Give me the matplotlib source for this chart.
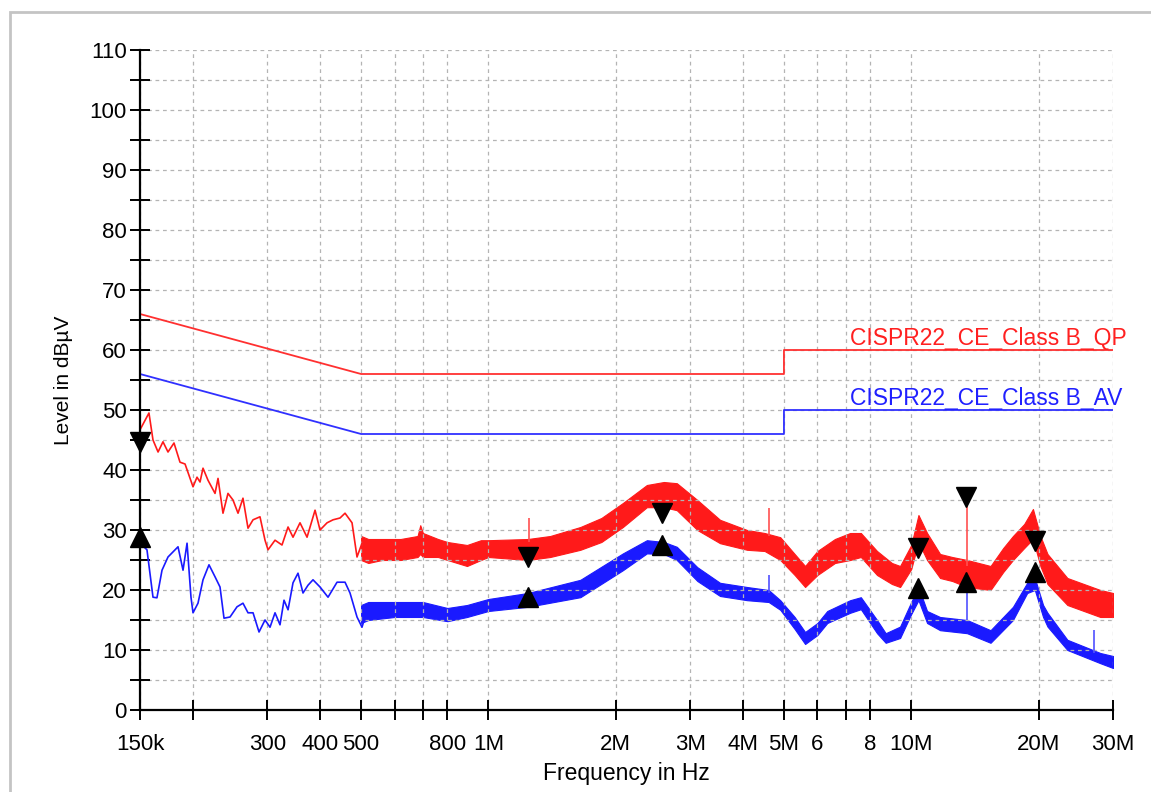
import numpy as np
import matplotlib
matplotlib.use('Agg')
import matplotlib.pyplot as plt
from matplotlib.patches import Rectangle

plt.rcParams['font.family'] = ['Liberation Sans', 'DejaVu Sans']

# 1. Limit lines (frequency in MHz, level in dBuV)
qp_limit_f = [0.15, 0.5, 5.0, 5.0, 30.0]
qp_limit_v = [66, 56, 56, 60, 60]
av_limit_f = [0.15, 0.5, 5.0, 5.0, 30.0]
av_limit_v = [56, 46, 46, 50, 50]

# 2. Measured traces below 500 kHz (single wiggly line), kHz / dBuV
red_low_f = [150, 157.5, 161, 165.5, 170, 174.7, 180.5, 186.5, 191.7, 200.2, 204.6, 208,
             211.4, 217.2, 225.7, 229.4, 235.7, 242.2, 248.9, 255.8, 262.8, 270.1, 277.6,
             288.3, 296.3, 301.2, 312.9, 325, 335.9, 345.1, 358.5, 372.5, 389.1, 399.8,
             415.4, 429.2, 445.8, 458.1, 475.9, 489, 502.5]
red_low_v = [46.7, 49.5, 45, 43, 44.7, 43, 44.5, 41.3, 41, 37.2, 38.8, 38,
             40.3, 38.3, 36.1, 38.6, 32.8, 36.1, 35, 32.8, 35.3, 30.3, 31.7,
             32.2, 28.3, 26.7, 28.3, 27.5, 30.5, 28.8, 31.2, 28.8, 33.3, 30,
             31.2, 31.7, 32, 32.8, 31.2, 25.5, 27.8]
blue_low_f = [150, 155.8, 161, 164.5, 169.1, 174.7, 184.5, 189.6, 193.8, 198, 200.2, 205.7,
              211.4, 218.4, 225.7, 231.9, 237, 244.9, 254.4, 262.8, 270.1, 277.6, 286.8,
              296.3, 304.5, 312.9, 321.5, 328.6, 335.9, 345.1, 354.6, 364.4, 374.5, 384.8,
              399.8, 417.6, 438.6, 458.1, 470.7, 489, 502.5, 516.4]
blue_low_v = [27.8, 26.7, 18.8, 18.7, 23.3, 25.5, 27.2, 23.3, 27.8, 18.8, 16.2, 17.8,
              21.7, 24.2, 22.2, 20.5, 15.3, 15.5, 17.2, 17.8, 16.2, 16.2, 13,
              15, 13.8, 16.2, 14.2, 18.3, 16.7, 21.2, 22.8, 19.5, 20.8, 21.7,
              20.5, 18.8, 21.3, 21.3, 19.5, 15.5, 13.8, 16.7]

# 3. Measured traces above 500 kHz (noise band: low / high edge), MHz / dBuV
red_band_f = [0.50, 0.52, 0.56, 0.62, 0.68, 0.69, 0.70, 0.76, 0.80, 0.89, 0.96, 1.0, 1.24, 1.4,
              1.65, 1.85, 2.08, 2.37, 2.6, 2.79, 3.12, 3.53, 4.09, 4.5, 4.9, 5.3, 5.61, 6.0,
              6.6, 7.17, 7.6, 8.3, 9.0, 9.41, 10.0, 10.4, 10.9, 11.7, 12.5, 13.55, 15.4,
              16.5, 17.4, 18.5, 19.4, 20.2, 21.0, 23.4, 28.0, 30.0]
red_band_lo = [25.0, 24.5, 25.0, 25.0, 25.5, 26.0, 25.5, 25.5, 25.0, 24.0, 25.0, 25.5, 25.0, 25.5,
               26.7, 28.0, 30.5, 33.8, 33.8, 33.3, 30.0, 27.8, 26.7, 26.5, 25.0, 22.5, 20.5, 22.5,
               24.5, 25.0, 25.5, 22.5, 21.0, 20.5, 23.5, 28.0, 25.0, 22.0, 21.5, 20.5, 20.0,
               23.0, 25.0, 27.0, 28.5, 24.0, 21.0, 17.5, 15.5, 15.5]
red_band_hi = [29.0, 28.5, 28.5, 28.5, 29.0, 30.8, 29.5, 28.5, 28.0, 27.5, 28.3, 28.3, 28.5, 29.0,
               30.5, 32.0, 34.5, 37.5, 38.0, 37.8, 35.0, 31.7, 30.0, 29.5, 28.8, 26.0, 24.0, 26.5,
               28.5, 29.5, 29.5, 26.5, 24.5, 24.0, 27.5, 32.5, 29.5, 26.0, 25.5, 25.0, 24.0,
               27.0, 29.0, 31.0, 33.5, 29.0, 26.0, 22.0, 20.0, 19.5]
blue_band_f = [0.50, 0.52, 0.60, 0.70, 0.80, 0.89, 1.0, 1.24, 1.65, 2.08, 2.37, 2.6, 2.79, 3.12,
               3.53, 4.09, 4.6, 4.9, 5.3, 5.61, 6.0, 6.33, 7.17, 7.6, 8.3, 8.7, 9.41, 10.0, 10.4,
               10.9, 11.7, 13.55, 15.4, 17.4, 18.8, 19.6, 20.5, 21.0, 23.4, 28.0, 30.0]
blue_band_lo = [14.5, 15.0, 15.5, 15.5, 14.8, 15.5, 16.5, 17.2, 18.8, 23.3, 26.1, 26.0, 25.0, 21.5,
                19.0, 18.3, 18.0, 16.7, 13.5, 11.0, 12.5, 14.5, 16.2, 16.8, 12.8, 11.2, 12.0, 16.0,
                18.3, 14.5, 13.3, 12.8, 11.2, 15.0, 19.5, 20.0, 15.5, 13.9, 10.0, 7.8, 7.0]
blue_band_hi = [17.5, 18.0, 18.0, 18.0, 17.0, 17.5, 18.5, 19.5, 21.7, 26.1, 28.3, 28.0, 27.2, 23.8,
                21.2, 20.5, 20.0, 18.3, 15.5, 13.0, 14.5, 16.5, 18.3, 18.8, 15.0, 12.8, 13.9, 18.0,
                20.5, 16.5, 15.5, 15.0, 13.3, 17.2, 21.2, 22.0, 17.5, 16.2, 11.7, 9.5, 9.0]

# 4. Single spikes (MHz, from, to)
red_spike_f = [1.25, 4.6, 13.55]
red_spike_lo = [28.0, 29.0, 24.0]
red_spike_hi = [32.0, 33.7, 35.5]
blue_spike_f = [4.6, 13.55, 27.0]
blue_spike_lo = [19.5, 15.0, 9.5]
blue_spike_hi = [22.5, 21.3, 13.3]

# 5. Peak markers
qp_mark_f = [0.15, 1.24, 2.57, 10.4, 13.5, 19.6]
qp_mark_v = [44.7, 25.5, 32.8, 27.0, 35.5, 28.2]
av_mark_f = [0.15, 1.24, 2.57, 10.4, 13.5, 19.6]
av_mark_v = [28.8, 18.8, 27.5, 20.3, 21.3, 23.0]

# 6. Axis ticks
xtick_f = [0.15, 0.2, 0.3, 0.4, 0.5, 0.6, 0.7, 0.8, 1, 2, 3, 4, 5, 6, 7, 8, 10, 20, 30]
xtick_lbl = ['150k', '', '300', '400', '500', '', '', '800', '1M', '2M', '3M', '4M', '5M',
             '6', '', '8', '10M', '20M', '30M']

RED = '#ff1a1a'
BLUE = '#1a1aff'
MHz = 1e6
kHz = 1e3

fig = plt.figure(figsize=(11.51, 7.92), dpi=100)
ax = fig.add_axes([140 / 1151, 1 - 710 / 792, 973 / 1151, 660 / 792])

# light grey frame around the picture
fig.patches.append(Rectangle((10 / 1151, -0.05), 1.1, 1 - 12 / 792 + 0.05,
                             transform=fig.transFigure, fill=False,
                             edgecolor='#c4c4c4', lw=2))

# limits
ax.plot(np.array(qp_limit_f) * MHz, qp_limit_v, color='#ff3030', lw=1.3)
ax.plot(np.array(av_limit_f) * MHz, av_limit_v, color='#3030ff', lw=1.3)
ax.text(7.17 * MHz, 60.8, 'CISPR22_CE_Class B_QP', color='#ff2020', fontsize=16.5,
        va='baseline', ha='left', clip_on=False)
ax.text(7.17 * MHz, 50.8, 'CISPR22_CE_Class B_AV', color='#2020ff', fontsize=16.5,
        va='baseline', ha='left', clip_on=False)

# traces
ax.plot(np.array(red_low_f) * kHz, red_low_v, color=RED, lw=1.2)
ax.plot(np.array(blue_low_f) * kHz, blue_low_v, color=BLUE, lw=1.2)
ax.fill_between(np.array(red_band_f) * MHz, red_band_lo, red_band_hi,
                color=RED, lw=0.8)
ax.fill_between(np.array(blue_band_f) * MHz, blue_band_lo, blue_band_hi,
                color=BLUE, lw=0.8)
ax.vlines(np.array(red_spike_f) * MHz, red_spike_lo, red_spike_hi, color='#ff5050', lw=1.2)
ax.vlines(np.array(blue_spike_f) * MHz, blue_spike_lo, blue_spike_hi, color='#5050ff', lw=1.2)

# markers
ax.plot(np.array(qp_mark_f) * MHz, qp_mark_v, 'v', color='black', ms=14, clip_on=False)
ax.plot(np.array(av_mark_f) * MHz, av_mark_v, '^', color='black', ms=14, clip_on=False)

# axes
ax.set_xscale('log')
ax.set_xlim(0.15 * MHz, 30 * MHz)
ax.set_ylim(0, 110)
ax.set_xticks(np.array(xtick_f) * MHz)
ax.set_xticklabels(xtick_lbl)
ax.xaxis.set_minor_locator(matplotlib.ticker.NullLocator())
ax.set_yticks(range(0, 111, 10))
ax.set_yticks(range(5, 110, 10), minor=True)

for s in ['top', 'right']:
    ax.spines[s].set_visible(False)
for s in ['left', 'bottom']:
    ax.spines[s].set_linewidth(1.6)

ax.tick_params(which='both', direction='inout', length=15, width=1.4, labelsize=16)
ax.tick_params(axis='x', pad=10)
ax.tick_params(axis='y', pad=2)
ax.grid(which='both', color='#b4b4b4', linestyle=(0, (3, 3)), lw=0.9)

ax.set_xlabel('Frequency in Hz', fontsize=16.5, labelpad=5)
ax.set_ylabel('Level in dBµV', fontsize=15, labelpad=12)

fig.savefig('out.png', dpi=100)
